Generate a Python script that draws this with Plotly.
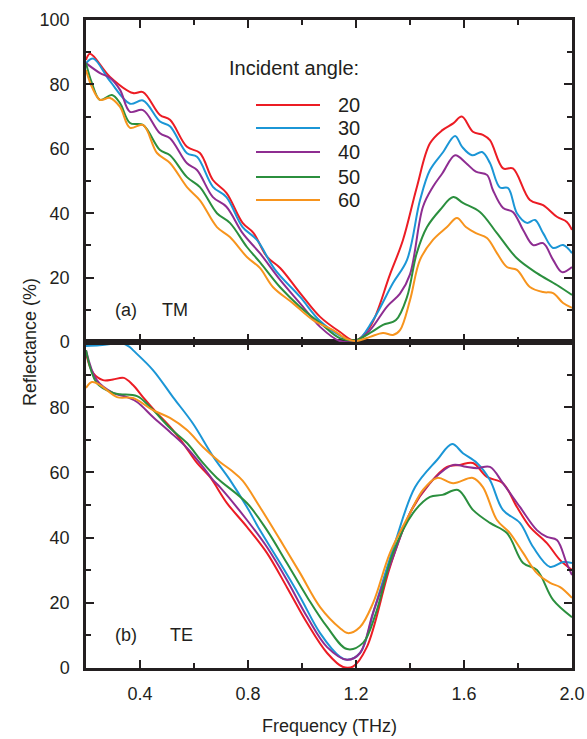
import plotly.graph_objects as go

angles = ["20", "30", "40", "50", "60"]
colors = ["#ec1c24", "#1b96d6", "#8e2d91", "#2b8f3e", "#f7941d"]

# ---------- (a) TM ----------
tm_f_20 = [0.2, 0.215, 0.289, 0.374, 0.411, 0.474, 0.511, 0.574, 0.622, 0.67, 0.72, 0.78, 0.82, 0.87, 0.919, 0.993, 1.067, 1.141, 1.196, 1.252, 1.326, 1.374, 1.425, 1.474, 1.52, 1.56, 1.592, 1.633, 1.67, 1.696, 1.745, 1.781, 1.844, 1.893, 1.944, 1.981, 2.0]
tm_r_20 = [87.6, 89.5, 82.3, 77.3, 77.6, 70.5, 69.0, 60.6, 58.7, 50.3, 46.3, 37.0, 33.9, 26.5, 23.0, 15.2, 7.8, 3.1, 0.4, 4.7, 21.0, 31.7, 48.0, 61.7, 65.8, 67.9, 70.0, 65.3, 64.3, 62.7, 53.9, 53.9, 44.1, 42.5, 38.9, 37.3, 34.8]

tm_f_30 = [0.2, 0.227, 0.289, 0.363, 0.411, 0.474, 0.511, 0.574, 0.611, 0.67, 0.72, 0.78, 0.833, 0.9, 0.993, 1.067, 1.141, 1.2, 1.263, 1.337, 1.389, 1.437, 1.474, 1.52, 1.567, 1.593, 1.63, 1.667, 1.696, 1.733, 1.763, 1.796, 1.833, 1.863, 1.893, 1.93, 1.967, 2.0]
tm_r_30 = [86.6, 88.0, 81.0, 74.0, 75.0, 68.5, 67.0, 58.6, 57.5, 48.2, 45.0, 35.7, 31.7, 22.5, 14.0, 6.5, 2.0, 0.2, 6.8, 18.3, 25.5, 44.0, 53.4, 58.7, 64.0, 60.6, 58.0, 59.0, 55.6, 48.0, 47.8, 40.0, 37.0, 37.9, 33.8, 29.2, 30.1, 27.6]

tm_f_40 = [0.2, 0.252, 0.289, 0.326, 0.363, 0.411, 0.474, 0.511, 0.574, 0.611, 0.67, 0.72, 0.78, 0.844, 0.919, 0.993, 1.067, 1.14, 1.2, 1.252, 1.315, 1.363, 1.4, 1.448, 1.485, 1.52, 1.567, 1.607, 1.644, 1.685, 1.707, 1.745, 1.781, 1.819, 1.856, 1.893, 1.93, 1.963, 2.0]
tm_r_40 = [86.6, 83.5, 82.0, 78.3, 71.5, 72.0, 64.8, 63.3, 55.5, 53.4, 45.0, 42.0, 33.8, 27.6, 19.3, 12.0, 4.7, 0.3, 0.3, 3.7, 11.0, 15.0, 21.0, 42.0, 48.2, 52.4, 58.0, 55.6, 52.9, 51.9, 47.2, 41.6, 40.4, 34.8, 30.1, 30.7, 25.5, 21.7, 23.3]

tm_f_50 = [0.2, 0.222, 0.252, 0.296, 0.326, 0.363, 0.411, 0.474, 0.511, 0.574, 0.622, 0.685, 0.733, 0.796, 0.844, 0.919, 0.993, 1.067, 1.14, 1.2, 1.252, 1.3, 1.348, 1.389, 1.425, 1.463, 1.511, 1.56, 1.596, 1.659, 1.722, 1.796, 1.87, 1.944, 2.0]
tm_r_50 = [86.6, 80.4, 75.2, 76.7, 74.2, 68.0, 67.4, 59.6, 58.0, 51.2, 48.1, 40.0, 37.0, 29.5, 24.8, 17.0, 10.9, 5.9, 1.2, 0.6, 2.8, 5.3, 6.8, 14.0, 27.6, 35.7, 41.0, 45.0, 43.2, 40.4, 33.8, 26.0, 21.4, 17.7, 14.6]

tm_f_60 = [0.2, 0.222, 0.252, 0.289, 0.326, 0.363, 0.411, 0.463, 0.511, 0.574, 0.622, 0.685, 0.733, 0.796, 0.844, 0.893, 0.967, 1.041, 1.115, 1.167, 1.2, 1.252, 1.3, 1.337, 1.363, 1.4, 1.437, 1.485, 1.537, 1.574, 1.607, 1.644, 1.685, 1.722, 1.759, 1.796, 1.844, 1.893, 1.93, 1.967, 2.0]
tm_r_60 = [84.5, 79.2, 75.2, 75.8, 73.0, 66.5, 67.4, 58.7, 55.6, 48.1, 44.0, 35.7, 32.6, 26.4, 23.0, 17.0, 12.0, 6.8, 3.7, 0.9, 0.3, 1.6, 2.8, 2.2, 3.7, 13.0, 25.5, 31.7, 35.7, 38.5, 35.7, 33.8, 32.3, 27.6, 23.3, 22.4, 17.1, 15.5, 15.2, 12.1, 10.6]

# ---------- (b) TE ----------
te_f_20 = [0.2, 0.226, 0.263, 0.3, 0.34, 0.374, 0.411, 0.463, 0.511, 0.559, 0.611, 0.659, 0.722, 0.796, 0.87, 0.944, 1.019, 1.093, 1.152, 1.19, 1.24, 1.326, 1.4, 1.474, 1.537, 1.585, 1.633, 1.685, 1.744, 1.796, 1.844, 1.907, 1.956, 2.0]
te_r_20 = [96.6, 90.5, 88.3, 88.5, 89.0, 86.8, 83.1, 78.2, 74.0, 69.0, 62.9, 58.6, 50.6, 43.3, 35.3, 24.8, 13.8, 4.6, 0.3, 0.5, 6.4, 31.0, 47.5, 56.7, 61.7, 62.3, 62.9, 58.6, 56.7, 49.4, 43.3, 38.3, 33.1, 30.1]

te_f_30 = [0.2, 0.25, 0.3, 0.33, 0.36, 0.374, 0.448, 0.522, 0.596, 0.67, 0.733, 0.796, 0.844, 0.919, 0.993, 1.067, 1.141, 1.167, 1.215, 1.27, 1.344, 1.419, 1.5, 1.556, 1.596, 1.648, 1.696, 1.744, 1.807, 1.856, 1.919, 1.967, 2.0]
te_r_30 = [98.8, 99.0, 99.5, 99.6, 98.6, 97.5, 91.4, 83.1, 75.0, 65.0, 57.7, 49.4, 42.3, 32.2, 21.8, 10.7, 3.4, 2.5, 4.6, 18.7, 38.3, 55.5, 63.8, 68.7, 65.9, 62.9, 57.7, 48.5, 44.5, 37.1, 31.0, 32.5, 32.2]

te_f_40 = [0.2, 0.24, 0.3, 0.352, 0.389, 0.448, 0.511, 0.574, 0.633, 0.67, 0.696, 0.796, 0.87, 0.944, 1.019, 1.093, 1.167, 1.215, 1.263, 1.337, 1.411, 1.485, 1.56, 1.607, 1.648, 1.696, 1.744, 1.807, 1.87, 1.907, 1.944, 1.98, 2.0]
te_r_40 = [97.5, 88.3, 84.4, 83.1, 81.6, 77.0, 72.4, 67.5, 61.7, 57.7, 55.5, 45.4, 37.1, 27.0, 15.7, 6.4, 2.5, 4.6, 16.9, 34.0, 49.4, 57.7, 62.3, 61.7, 61.3, 61.7, 56.7, 49.4, 42.3, 40.2, 39.3, 32.2, 28.5]

te_f_50 = [0.2, 0.24, 0.3, 0.326, 0.389, 0.437, 0.511, 0.574, 0.633, 0.685, 0.796, 0.87, 0.944, 1.019, 1.093, 1.167, 1.226, 1.274, 1.337, 1.411, 1.474, 1.52, 1.578, 1.633, 1.696, 1.759, 1.819, 1.87, 1.93, 2.0]
te_r_50 = [97.5, 87.4, 84.4, 84.0, 83.4, 80.1, 73.6, 69.0, 62.9, 58.3, 50.6, 42.3, 32.2, 21.8, 12.6, 5.8, 7.7, 16.9, 35.3, 47.5, 52.5, 53.1, 54.6, 48.5, 44.5, 41.4, 32.2, 30.1, 20.9, 15.6]

te_f_60 = [0.2, 0.222, 0.252, 0.315, 0.374, 0.448, 0.511, 0.574, 0.633, 0.696, 0.74, 0.78, 0.844, 0.919, 0.993, 1.067, 1.14, 1.17, 1.215, 1.263, 1.326, 1.4, 1.448, 1.5, 1.56, 1.633, 1.67, 1.722, 1.77, 1.819, 1.87, 1.919, 1.956, 2.0]
te_r_60 = [85.9, 87.7, 86.8, 83.1, 82.8, 79.1, 76.7, 73.0, 67.8, 63.2, 60.5, 57.5, 49.4, 39.3, 29.1, 18.7, 12.3, 10.7, 12.6, 19.9, 35.3, 47.5, 54.6, 58.3, 56.7, 58.3, 55.5, 45.4, 41.4, 35.3, 29.1, 26.1, 24.8, 21.5]

tm_f = [tm_f_20, tm_f_30, tm_f_40, tm_f_50, tm_f_60]
tm_r = [tm_r_20, tm_r_30, tm_r_40, tm_r_50, tm_r_60]
te_f = [te_f_20, te_f_30, te_f_40, te_f_50, te_f_60]
te_r = [te_r_20, te_r_30, te_r_40, te_r_50, te_r_60]

x_major = [0.4, 0.8, 1.2, 1.6, 2.0]
x_minor = [0.2, 0.6, 1.0, 1.4, 1.8]
y_major_top = [0, 20, 40, 60, 80, 100]
y_major_bot = [0, 20, 40, 60, 80]
y_minor = [10, 30, 50, 70, 90]

FONT = "Liberation Sans, Arial, Helvetica, sans-serif"
INK = "#231f20"

fig = go.Figure()
for i, a in enumerate(angles):
    fig.add_trace(go.Scatter(x=tm_f[i], y=tm_r[i], mode="lines", name=a,
                             line=dict(color=colors[i], width=2, shape="spline", smoothing=1.0),
                             xaxis="x2", yaxis="y2", showlegend=False, legendgroup=a))
for i, a in enumerate(angles):
    fig.add_trace(go.Scatter(x=te_f[i], y=te_r[i], mode="lines", name=a,
                             line=dict(color=colors[i], width=2, shape="spline", smoothing=1.0),
                             xaxis="x", yaxis="y", showlegend=False, legendgroup=a))

axis_common = dict(showline=True, linewidth=2.5, linecolor=INK, mirror="allticks",
                   ticks="inside", tickwidth=2, tickcolor=INK, ticklen=8,
                   showgrid=False, zeroline=False, automargin=False,
                   tickfont=dict(family=FONT, size=18, color=INK))
minor_common = dict(ticklen=5, tickwidth=2, tickcolor=INK, ticks="inside")

H_PLOT = 648
W_PLOT = 486
split = 326 / H_PLOT

fig.update_layout(
    width=587, height=739,
    margin=dict(l=86, r=15, t=20, b=71),
    paper_bgcolor="white", plot_bgcolor="white",
    font=dict(family=FONT, size=18, color=INK),
    xaxis=dict(axis_common, range=[0.2, 2.0], tickvals=x_major, ticktext=["0.4", "0.8", "1.2", "1.6", "2.0"],
               minor=dict(minor_common, tickvals=x_minor),
               anchor="y", domain=[0, 1], ticklabelstandoff=8),
    yaxis=dict(axis_common, range=[0, 100], tickvals=y_major_bot,
               minor=dict(minor_common, tickvals=y_minor),
               anchor="x", domain=[0, split], ticklabelstandoff=10),
    xaxis2=dict(axis_common, range=[0.2, 2.0], tickvals=x_major, showticklabels=False,
                minor=dict(minor_common, tickvals=x_minor),
                anchor="y2", domain=[0, 1]),
    yaxis2=dict(axis_common, range=[0, 100], tickvals=y_major_top,
                minor=dict(minor_common, tickvals=y_minor),
                anchor="x2", domain=[split, 1], ticklabelstandoff=10),
    showlegend=False,
)

# helpers converting page pixels to paper coordinates (plot area 86..572 x 20..668)
def px_x(px):
    return (px - 86) / W_PLOT

def px_y(py):
    return (668 - py) / H_PLOT

legend_rows_px = [105, 128, 152, 177, 200]
fig.add_annotation(text="Incident angle:", xref="paper", yref="paper", x=px_x(227), y=px_y(68),
                   xanchor="left", yanchor="middle", showarrow=False, font=dict(size=20, color=INK, family=FONT))
for i, a in enumerate(angles):
    yy = px_y(legend_rows_px[i])
    fig.add_shape(type="line", xref="paper", yref="paper", x0=px_x(256), x1=px_x(320), y0=yy, y1=yy,
                  line=dict(color=colors[i], width=2))
    fig.add_annotation(text=a, xref="paper", yref="paper", x=px_x(336), y=yy,
                       xanchor="left", yanchor="middle", showarrow=False,
                       font=dict(size=20, color=INK, family=FONT))

fig.add_annotation(text="Frequency (THz)", xref="paper", yref="paper", x=0.5, y=px_y(726),
                   xanchor="center", yanchor="middle", showarrow=False,
                   font=dict(size=18, color=INK, family=FONT))
fig.add_annotation(text="Reflectance (%)", xref="paper", yref="paper", x=px_x(30), y=split,
                   xanchor="center", yanchor="middle", textangle=-90, showarrow=False,
                   font=dict(size=18, color=INK, family=FONT))
fig.add_annotation(text="(a)", xref="x2 domain", yref="y2", x=0.056, y=10, xanchor="left", yanchor="middle",
                   showarrow=False, font=dict(size=18, color=INK, family=FONT))
fig.add_annotation(text="TM", xref="x2 domain", yref="y2", x=0.152, y=10, xanchor="left", yanchor="middle",
                   showarrow=False, font=dict(size=18, color=INK, family=FONT))
fig.add_annotation(text="(b)", xref="x domain", yref="y", x=0.056, y=10, xanchor="left", yanchor="middle",
                   showarrow=False, font=dict(size=18, color=INK, family=FONT))
fig.add_annotation(text="TE", xref="x domain", yref="y", x=0.169, y=10, xanchor="left", yanchor="middle",
                   showarrow=False, font=dict(size=18, color=INK, family=FONT))

fig.write_html("out.html")
